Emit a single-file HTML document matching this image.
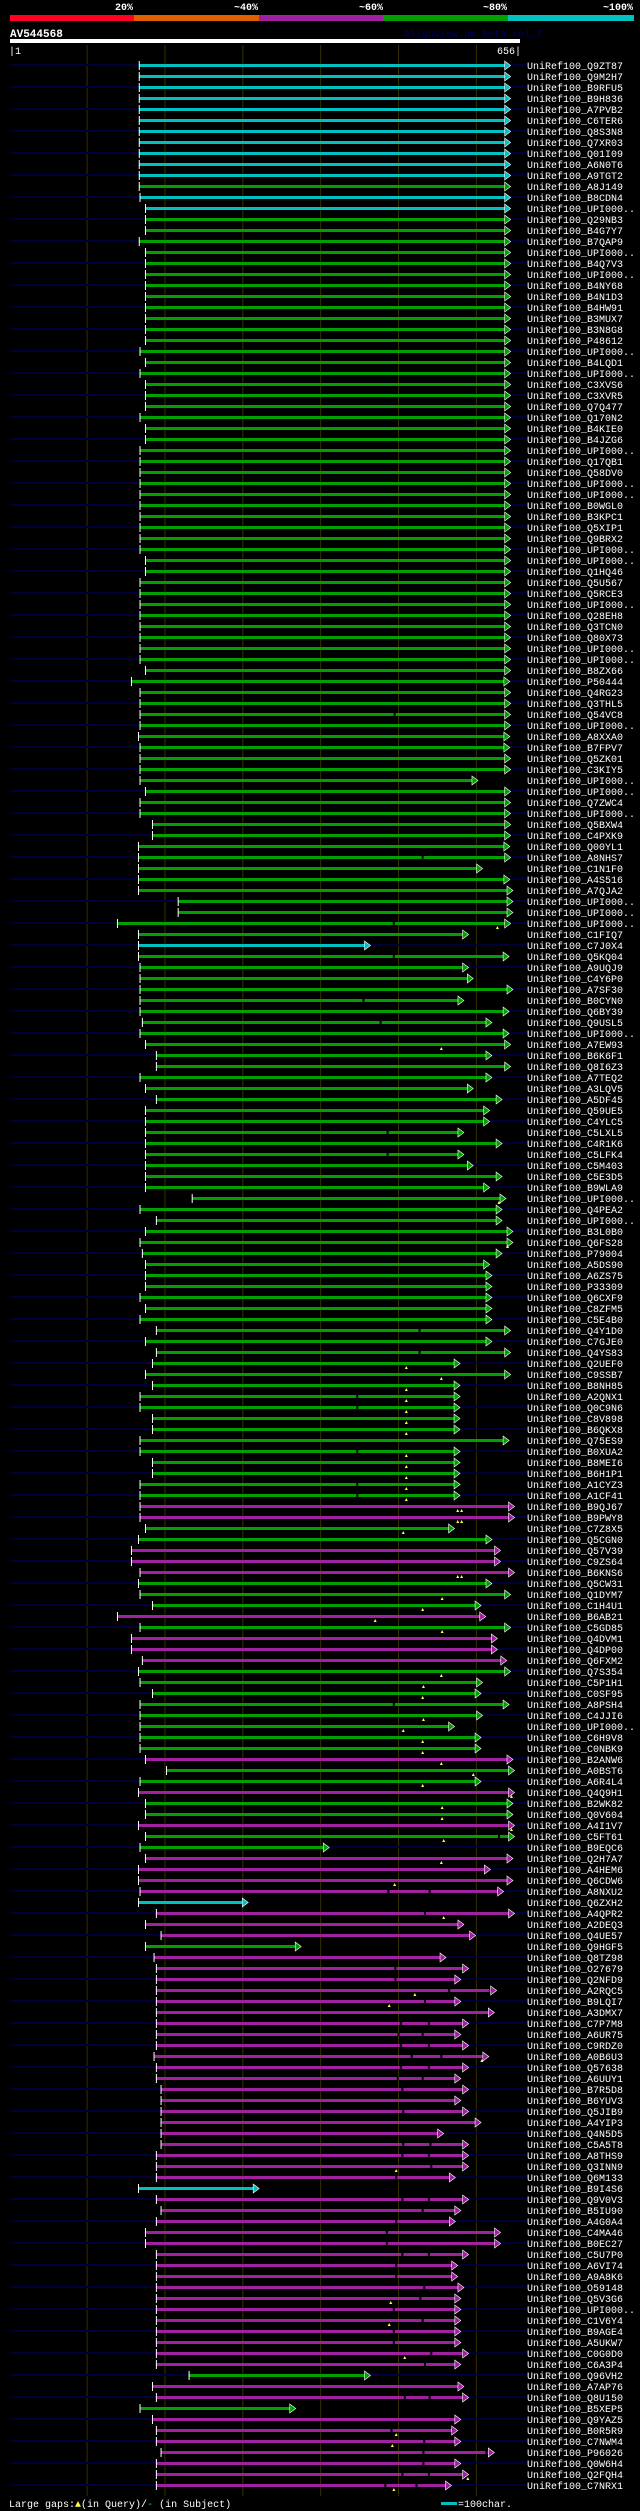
<!DOCTYPE html>
<html><head><meta charset="utf-8"><title>AV544568 alignment overview</title>
<style>
html,body{margin:0;padding:0;background:#000;}
svg{display:block;}
text{font-family:"Liberation Mono",monospace;}
</style></head>
<body>
<svg id="chart" width="640" height="2511" viewBox="0 0 640 2511" xmlns="http://www.w3.org/2000/svg">
<rect x="0" y="0" width="640" height="2511" fill="#000"/>
<g>
<text x="133" y="10" fill="#fff" font-size="10" font-weight="bold" text-anchor="end">20%</text>
<text x="258" y="10" fill="#fff" font-size="10" font-weight="bold" text-anchor="end">~40%</text>
<text x="383" y="10" fill="#fff" font-size="10" font-weight="bold" text-anchor="end">~60%</text>
<text x="507" y="10" fill="#fff" font-size="10" font-weight="bold" text-anchor="end">~80%</text>
<text x="633" y="10" fill="#fff" font-size="10" font-weight="bold" text-anchor="end">~100%</text>
<rect x="10" y="15" width="124" height="6" fill="#ff0020"/>
<rect x="134" y="15" width="125" height="6" fill="#e06000"/>
<rect x="259" y="15" width="124" height="6" fill="#a020a0"/>
<rect x="383" y="15" width="125" height="6" fill="#00a000"/>
<rect x="508" y="15" width="126" height="6" fill="#00c0c0"/>
</g>
<text x="10" y="37" fill="#fff" font-size="11" font-weight="bold">AV544568</text>
<text x="404" y="37" fill="#000060" font-size="10">AlignView.pm Beta rel.7</text>
<rect x="10" y="39" width="510" height="4" fill="#fff"/>
<text x="9" y="54" fill="#fff" font-size="10">|1</text>
<text x="521" y="54" fill="#fff" font-size="10" text-anchor="end">656|</text>
<g id="grid"></g>
<g id="rows"></g>
<g>
<text x="9" y="2507" fill="#fff" font-size="10">Large gaps:<tspan fill="#ffff40">▲</tspan>(in Query)/<tspan fill="#00c0c0">-</tspan> (in Subject)</text>
<rect x="441" y="2502" width="16" height="3" fill="#00c0c0"/>
<text x="458" y="2507" fill="#fff" font-size="10">=100char.</text>
</g>
</svg>
<script>
const QUERY_LEN = 656;
const gridTicks = [100,200,300,400,500,600];
const names = [
"UniRef100_Q9ZT87","UniRef100_Q9M2H7","UniRef100_B9RFU5","UniRef100_B9H836","UniRef100_A7PVB2","UniRef100_C6TER6","UniRef100_Q8S3N8","UniRef100_Q7XR03","UniRef100_Q01I09","UniRef100_A6N0T6",
"UniRef100_A9TGT2","UniRef100_A8J149","UniRef100_B8CDN4","UniRef100_UPI000..","UniRef100_Q29NB3","UniRef100_B4G7Y7","UniRef100_B7QAP9","UniRef100_UPI000..","UniRef100_B4Q7V3","UniRef100_UPI000..",
"UniRef100_B4NY68","UniRef100_B4N1D3","UniRef100_B4HW91","UniRef100_B3MUX7","UniRef100_B3N8G8","UniRef100_P48612","UniRef100_UPI000..","UniRef100_B4LQD1","UniRef100_UPI000..","UniRef100_C3XVS6",
"UniRef100_C3XVR5","UniRef100_Q7Q477","UniRef100_Q170N2","UniRef100_B4KIE0","UniRef100_B4JZG6","UniRef100_UPI000..","UniRef100_Q17QB1","UniRef100_Q58DV0","UniRef100_UPI000..","UniRef100_UPI000..",
"UniRef100_B0WGL0","UniRef100_B3KPC1","UniRef100_Q5XIP1","UniRef100_Q9BRX2","UniRef100_UPI000..","UniRef100_UPI000..","UniRef100_Q1HQ46","UniRef100_Q5U567","UniRef100_Q5RCE3","UniRef100_UPI000..",
"UniRef100_Q28EH8","UniRef100_Q3TCN0","UniRef100_Q80X73","UniRef100_UPI000..","UniRef100_UPI000..","UniRef100_B8ZX66","UniRef100_P50444","UniRef100_Q4RG23","UniRef100_Q3THL5","UniRef100_Q54VC8",
"UniRef100_UPI000..","UniRef100_A8XXA0","UniRef100_B7FPV7","UniRef100_Q5ZK01","UniRef100_C3KIY5","UniRef100_UPI000..","UniRef100_UPI000..","UniRef100_Q7ZWC4","UniRef100_UPI000..","UniRef100_Q5BXW4",
"UniRef100_C4PXK9","UniRef100_Q00YL1","UniRef100_A8NHS7","UniRef100_C1N1F0","UniRef100_A4S516","UniRef100_A7QJA2","UniRef100_UPI000..","UniRef100_UPI000..","UniRef100_UPI000..","UniRef100_C1FIQ7",
"UniRef100_C7J0X4","UniRef100_Q5KQ04","UniRef100_A9UQJ9","UniRef100_C4Y6P0","UniRef100_A7SF30","UniRef100_B0CYN0","UniRef100_Q6BY39","UniRef100_Q9USL5","UniRef100_UPI000..","UniRef100_A7EW93",
"UniRef100_B6K6F1","UniRef100_Q8I6Z3","UniRef100_A7TEQ2","UniRef100_A3LQV5","UniRef100_A5DF45","UniRef100_Q59UE5","UniRef100_C4YLC5","UniRef100_C5LXL5","UniRef100_C4R1K6","UniRef100_C5LFK4",
"UniRef100_C5M403","UniRef100_C5E3D5","UniRef100_B9WLA9","UniRef100_UPI000..","UniRef100_Q4PEA2","UniRef100_UPI000..","UniRef100_B3L0B0","UniRef100_Q6FS28","UniRef100_P79004","UniRef100_A5DS90",
"UniRef100_A6ZS75","UniRef100_P33309","UniRef100_Q6CXF9","UniRef100_C8ZFM5","UniRef100_C5E4B0","UniRef100_Q4Y1D0","UniRef100_C7GJE0","UniRef100_Q4YS83","UniRef100_Q2UEF0","UniRef100_C9SSB7",
"UniRef100_B8NH85","UniRef100_A2QNX1","UniRef100_Q0C9N6","UniRef100_C8V898","UniRef100_B6QKX8","UniRef100_Q75ES9","UniRef100_B0XUA2","UniRef100_B8MEI6","UniRef100_B6H1P1","UniRef100_A1CYZ3",
"UniRef100_A1CF41","UniRef100_B9QJ67","UniRef100_B9PWY8","UniRef100_C7Z8X5","UniRef100_Q5CGN0","UniRef100_Q57V39","UniRef100_C9ZS64","UniRef100_B6KNS6","UniRef100_Q5CW31","UniRef100_Q1DYM7",
"UniRef100_C1H4U1","UniRef100_B6AB21","UniRef100_C5GD85","UniRef100_Q4DVM1","UniRef100_Q4DP00","UniRef100_Q6FXM2","UniRef100_Q7S354","UniRef100_C5P1H1","UniRef100_C0SF95","UniRef100_A8PSH4",
"UniRef100_C4JJI6","UniRef100_UPI000..","UniRef100_C6H9V8","UniRef100_C0NBK9","UniRef100_B2ANW6","UniRef100_A0BST6","UniRef100_A6R4L4","UniRef100_Q4Q9H1","UniRef100_B2WK82","UniRef100_Q0V604",
"UniRef100_A4I1V7","UniRef100_C5FT61","UniRef100_B9EQC6","UniRef100_Q2H7A7","UniRef100_A4HEM6","UniRef100_Q6CDW6","UniRef100_A8NXU2","UniRef100_Q6ZXH2","UniRef100_A4QPR2","UniRef100_A2DEQ3",
"UniRef100_Q4UE57","UniRef100_Q9HGF5","UniRef100_Q8TZ98","UniRef100_O27679","UniRef100_Q2NFD9","UniRef100_A2RQC5","UniRef100_B9LQI7","UniRef100_A3DMX7","UniRef100_C7P7M8","UniRef100_A6UR75",
"UniRef100_C9RDZ0","UniRef100_A0B6U3","UniRef100_Q57638","UniRef100_A6UUY1","UniRef100_B7R5D8","UniRef100_B6YUV3","UniRef100_Q5JIB9","UniRef100_A4YIP3","UniRef100_Q4N5D5","UniRef100_C5A5T8",
"UniRef100_A8THS9","UniRef100_Q3INN9","UniRef100_Q6M133","UniRef100_B9I4S6","UniRef100_Q9V0V3","UniRef100_B5IU90","UniRef100_A4G0A4","UniRef100_C4MA46","UniRef100_B0EC27","UniRef100_C5U7P0",
"UniRef100_A6VI74","UniRef100_A9A8K6","UniRef100_O59148","UniRef100_Q5V3G6","UniRef100_UPI000..","UniRef100_C1V6Y4","UniRef100_B9AGE4","UniRef100_A5UKW7","UniRef100_C0G0D0","UniRef100_C6A3P4",
"UniRef100_Q96VH2","UniRef100_A7AP76","UniRef100_Q8U150","UniRef100_B5XEP5","UniRef100_Q9YAZ5","UniRef100_B0R5R9","UniRef100_C7NWM4","UniRef100_P96026","UniRef100_Q0W6H4","UniRef100_Q2FQH4",
"UniRef100_C7NRX1"];
const identityClass = "CCCCCCCCCC"+"CGCCGGGGGG"+"GGGGGGGGGG"+"GGGGGGGGGG"+"GGGGGGGGGG"+"GGGGGGGGGG"+"GGGGGGGGGG"+"GGGGGGGGGG"+"CGGGGGGGGG"+"GGGGGGGGGG"+"GGGGGGGGGG"+"GGGGGGGGGG"+"GGGGGGGGGG"+"GMMGGMMMGG"+"GMGMMMGGGG"+"GGGGMGGMGG"+"MGGMMMMCMM"+"MGMMMMMMMM"+"MMMMMMMMMM"+"MMMCMMMMMM"+"MMMMMMMMMM"+"GMMGMMMMMM"+"M";
const starts = [
167,167,167,167,167,167,167,167,167,167,
167,167,168,175,175,175,167,175,175,175,
175,175,175,175,175,175,168,175,168,175,
175,175,168,175,175,168,168,168,168,168,
168,168,168,168,168,175,175,168,168,168,
168,168,168,168,168,175,157,168,168,168,
168,166,168,168,168,168,175,168,168,184,
184,166,166,166,166,166,217,217,139,166,
166,166,168,168,168,168,168,171,168,175,
189,189,168,175,189,175,175,175,175,175,
175,175,175,235,168,189,175,168,171,175,
175,175,168,175,168,189,175,189,184,175,
184,168,168,184,184,168,168,184,184,168,
168,168,168,175,166,157,157,168,166,168,
184,139,168,157,157,171,166,168,184,168,
168,168,168,168,175,202,168,166,175,175,
166,175,168,175,166,166,168,166,189,175,
195,175,186,189,189,189,189,189,189,189,
189,186,189,189,195,195,195,195,195,195,
189,189,189,166,189,195,189,175,175,189,
189,189,189,189,189,189,189,189,189,189,
231,184,189,168,184,189,189,195,189,189,
189];
const ends = [
644,644,644,644,644,644,644,644,644,644,
644,644,644,644,644,644,644,644,644,644,
644,644,644,644,644,644,644,644,644,644,
644,644,644,644,644,644,644,644,644,644,
644,644,644,644,644,644,644,644,644,644,
644,644,644,644,644,644,643,644,644,644,
644,643,643,644,644,602,644,644,644,644,
644,643,644,608,643,647,647,647,644,590,
464,642,590,596,647,584,642,620,642,644,
620,644,620,596,633,617,617,584,633,584,
596,633,617,638,633,633,647,647,633,617,
620,620,620,620,620,644,620,644,579,644,
579,579,579,579,579,642,579,579,579,579,
579,649,649,572,620,631,631,649,620,644,
606,612,644,627,627,639,644,608,606,642,
608,572,606,606,647,649,606,649,647,647,
649,649,411,647,618,647,635,307,649,584,
599,375,561,590,580,626,580,623,590,580,
590,616,590,580,590,580,590,606,558,590,
590,590,573,321,590,580,573,631,631,590,
576,576,584,580,580,580,580,580,590,580,
464,584,590,368,580,576,580,623,580,590,
568];
const subjectGaps = {59:[495],72:[531],78:[494],81:[494],85:[455],87:[477],97:[486],99:[486],115:[527],117:[527],121:[447],122:[447],126:[447],129:[447],130:[447],149:[494],161:[629],166:[487,540],168:[534],173:[496],174:[496],175:[565,618],176:[534],178:[503,539],179:[500,531],180:[503,539],181:[517,555],182:[503,539],183:[499,531],184:[505],186:[506],189:[506,541],190:[505,539],191:[542],192:[497],194:[505,539],195:[531],196:[497],197:[485],198:[485],199:[505,539],200:[497],201:[497],202:[533],203:[528],204:[494],205:[531],206:[494],207:[494],208:[542],209:[534],212:[508,540],215:[491],216:[533],217:[532,613],218:[532],219:[505,539],220:[483,523]};
const queryGaps = {78:[627],89:[555],103:[629],107:[640],118:[510],119:[555],120:[510],121:[510],122:[510],123:[510],124:[510],126:[510],127:[510],128:[510],129:[510],130:[510],131:[576,581],132:[576,581],133:[506],137:[576,581],139:[556],140:[531],141:[470],142:[556],146:[555],147:[532],148:[531],150:[532],151:[506],152:[531],153:[531],154:[555],155:[596],156:[531],157:[645],158:[556],159:[556],160:[645],161:[558],163:[555],165:[495],168:[558],175:[521],176:[488],181:[607],191:[497],203:[490],205:[488],208:[508],215:[497],216:[492],219:[589],220:[494]};

const NS = "http://www.w3.org/2000/svg";
const palette = {C:"#00c0c0", G:"#00a000", M:"#a020a0"};
function xOf(r){ return 10 + (r-1)*510/(QUERY_LEN-1); }
function yOf(i){ return 65 + i*11; }
function mk(tag, attrs){ const e=document.createElementNS(NS,tag); for(const k in attrs) e.setAttribute(k,attrs[k]); return e; }

const grid = document.getElementById('grid');
gridTicks.forEach(t=>{
  const l = mk('line',{x1:xOf(t),x2:xOf(t),y1:45,y2:2496,stroke:'#343000','stroke-width':1});
  
  
  grid.appendChild(l);
});

const rowsG = document.getElementById('rows');
names.forEach((nm,i)=>{
  const y = yOf(i);
  const g = mk('g',{});
  
  
  if(i%2===0){
    const s = mk('rect',{x:10,y:y-1,width:517,height:2,fill:'#000038'});
    
    
    g.appendChild(s);
  }
  const col = palette[identityClass[i]] || "#00a000";
  const x0 = xOf(starts[i]), tip = xOf(ends[i]), base = tip-6;
  const bar = mk('rect',{x:x0,y:y-1,width:Math.max(0,base-x0),height:3,fill:col});
  
  
  g.appendChild(bar);
  (subjectGaps[i]||[]).forEach(p=>{
    const gp = mk('rect',{x:xOf(p)-1,y:y-1,width:2,height:3,fill:'#000'});
    
    
    g.appendChild(gp);
  });
  const arr = mk('polygon',{points:`${base},${y-4} ${tip},${y+0.5} ${base},${y+5}`,fill:col,stroke:'#fff','stroke-width':0.6});
  
  
  g.appendChild(arr);
  const tk = mk('rect',{x:x0-0.5,y:y-4,width:1,height:9,fill:'#fff'});
  
  
  g.appendChild(tk);
  (queryGaps[i]||[]).forEach(p=>{
    const xm = xOf(p);
    const m = mk('polygon',{points:`${xm-1.5},${y+6} ${xm},${y+3} ${xm+1.5},${y+6}`,fill:'#ffff40'});
    
    
    g.appendChild(m);
  });
  const t = mk('text',{x:527,y:y+4,fill:'#fff','font-size':10});
  t.textContent = nm;
  
  
  g.appendChild(t);
  rowsG.appendChild(g);
});
</script>
</body></html>
